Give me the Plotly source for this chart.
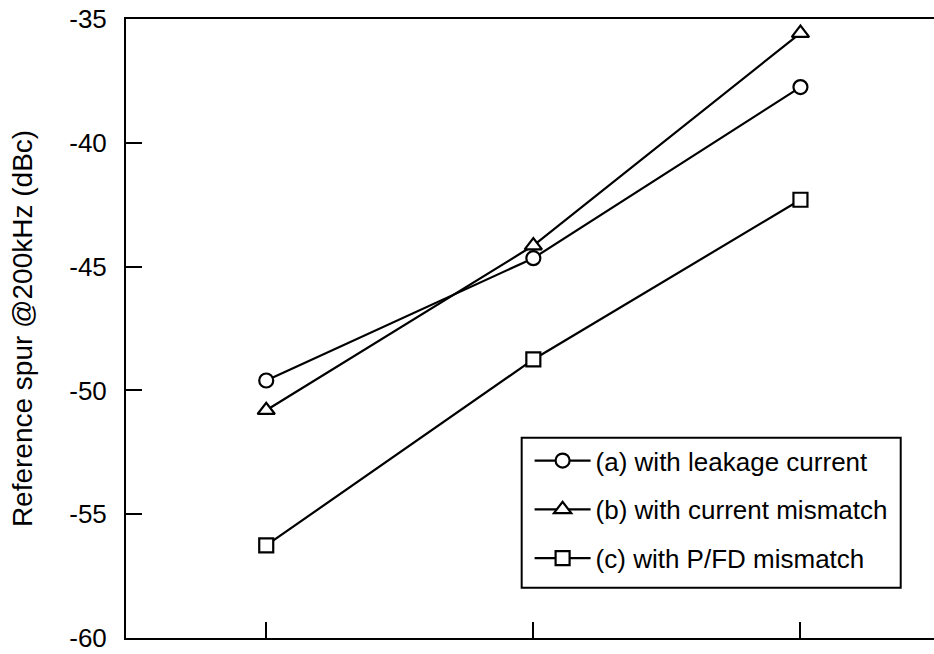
import plotly.graph_objects as go

# Three measurement points per curve, evenly spaced along the x axis
x_pos = [0, 1, 2]

# Reference spur at 200 kHz (dBc)
spur_leakage = [-49.6, -44.66, -37.75]
spur_current_mismatch = [-50.8, -44.15, -35.57]
spur_pfd_mismatch = [-56.26, -48.75, -42.3]

series_names = [
    "(a) with leakage current",
    "(b) with current mismatch",
    "(c) with P/FD mismatch",
]
series_symbols = ["circle", "triangle-up", "square"]
series_values = [spur_leakage, spur_current_mismatch, spur_pfd_mismatch]

y_ticks = [-60, -55, -50, -45, -40, -35]
y_tick_text = ["-60", "-55", "-50", "-45", "-40", "-35"]

FONT = "Liberation Sans, Arial, sans-serif"

fig = go.Figure()
for i, (name, sym, vals) in enumerate(zip(series_names, series_symbols, series_values)):
    fig.add_trace(go.Scatter(
        x=x_pos, y=vals, name=name, mode="lines+markers",
        legendgroup=f"g{i}",
        line=dict(color="black", width=2.2),
        marker=dict(symbol=sym, size=14 if sym != "triangle-up" else 15,
                    color="white", line=dict(color="black", width=2.2)),
    ))

# Framed box behind the legend entries
fig.add_shape(
    type="rect", xref="paper", yref="paper",
    x0=0.4897, x1=0.9588, y0=0.0811, y1=0.3236,
    line=dict(color="black", width=2), fillcolor="white", layer="below",
)

fig.update_layout(
    width=934, height=654,
    margin=dict(l=126, r=0, t=19, b=16),
    paper_bgcolor="white", plot_bgcolor="white",
    font=dict(family=FONT, size=26, color="black"),
    showlegend=True,
    legend=dict(
        x=0.4995, y=0.3245, xanchor="left", yanchor="top",
        bgcolor="rgba(0,0,0,0)", borderwidth=0,
        font=dict(family=FONT, size=26, color="black"),
        traceorder="grouped", tracegroupgap=12, itemwidth=56,
    ),
)

fig.update_xaxes(
    range=[-0.525, 2.5], tickvals=x_pos, showticklabels=False,
    ticks="inside", ticklen=16, tickwidth=2, tickcolor="black",
    showline=True, linecolor="black", linewidth=2, mirror=True,
    showgrid=False, zeroline=False,
)
fig.update_yaxes(
    range=[-60, -35], tickvals=y_ticks, ticktext=y_tick_text,
    ticks="inside", ticklen=16, tickwidth=2, tickcolor="black",
    ticklabelstandoff=12,
    showline=True, linecolor="black", linewidth=2,
    showgrid=False, zeroline=False,
    title=dict(text="Reference spur @200kHz (dBc)", standoff=28,
               font=dict(family=FONT, size=28, color="black")),
)

fig.write_html("out.html")
